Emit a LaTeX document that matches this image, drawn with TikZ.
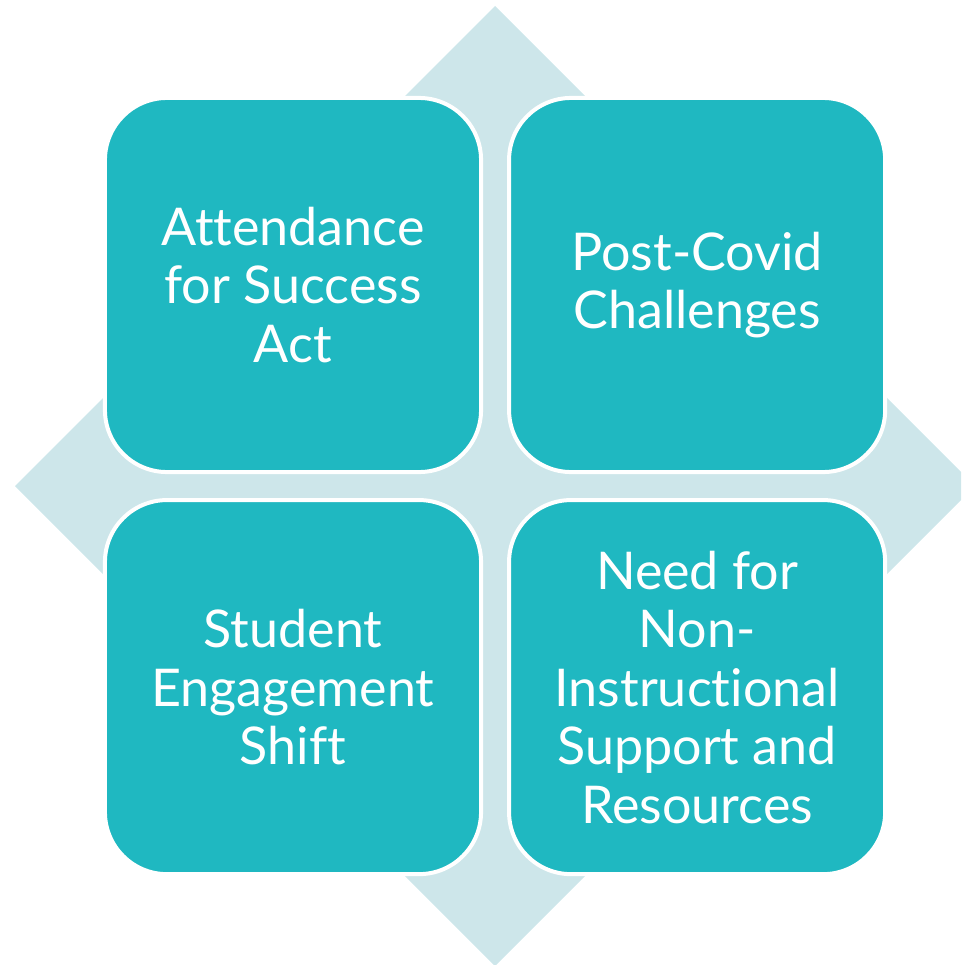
\documentclass[tikz,border=0pt]{standalone}
\usepackage{fontspec}
\setmainfont[Ligatures=NoCommon]{Lato}
\usetikzlibrary{positioning}
\definecolor{tealbox}{RGB}{31,184,193}
\definecolor{paleback}{RGB}{205,230,234}

\begin{document}
\begin{tikzpicture}[
      x=0.025cm,y=-0.025cm,
      node distance=0.7cm and 0.7cm,
      box/.style={rectangle,rounded corners=1.55cm,fill=tealbox,draw=white,
                  line width=0.1cm,outer sep=0pt,minimum width=9.4cm,minimum height=9.35cm,
                  text=white,align=center,font=\fontsize{37}{41.6}\selectfont}
    ]
      \useasboundingbox (0,0) rectangle (961,965);
      \clip (0,0) rectangle (961,965);
      % background diamond
      \fill[paleback] (495,6) -- (975,486) -- (495,966) -- (15,486) -- cycle;
      \node[box] at (293,285) (att) {Attendance\\for Success\\Act};
      \node[box,right=of att] (cov) {Post-Covid\\Challenges};
      \node[box,below=of att] (eng) {Student\\Engagement\\Shift};
      \node[box,right=of eng] (need) {Need for\\Non-\\Instructional\\Support and\\Resources};
    \end{tikzpicture}
\end{document}
